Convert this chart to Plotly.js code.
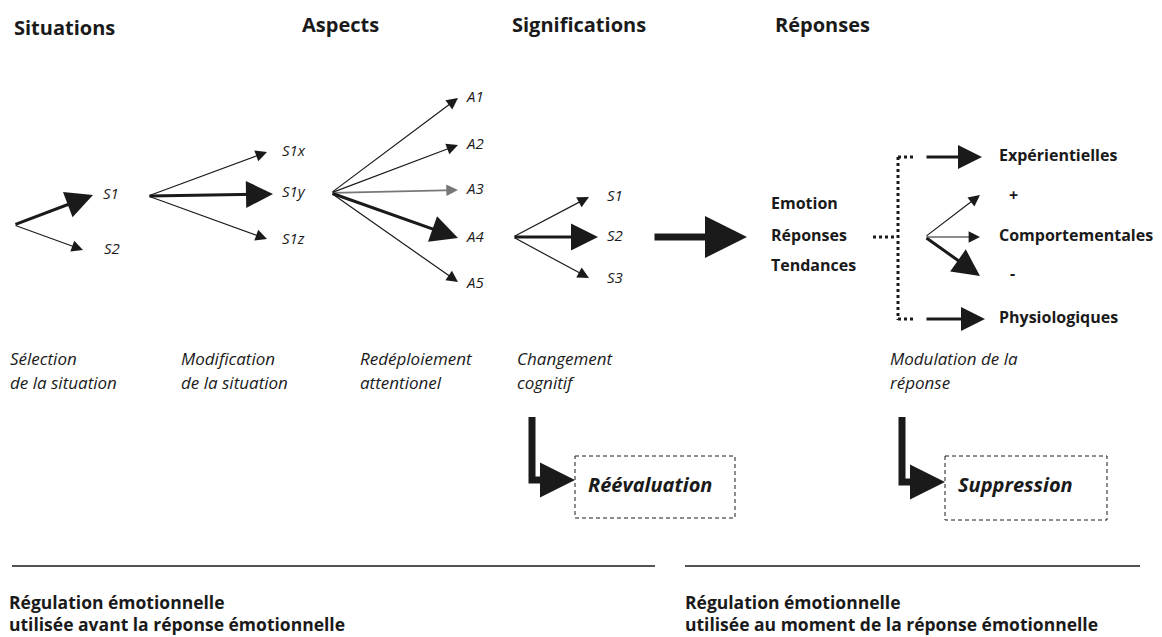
<!DOCTYPE html>
<html>
<head>
<meta charset="utf-8">
<script src="https://cdn.plot.ly/plotly-3.0.1.min.js"></script>
<style>html,body{margin:0;padding:0;background:#fff;}#chart{width:1162px;height:637px;}</style>
</head>
<body>
<div id="chart"></div>
<script>
// ---------- DATA ----------
const stageTitles = ['Situations', 'Aspects', 'Significations', 'Réponses'];
const situationOptions = ['S1', 'S2'];
const situationVariants = ['S1x', 'S1y', 'S1z'];
const aspectLabels = ['A1', 'A2', 'A3', 'A4', 'A5'];
const meaningLabels = ['S1', 'S2', 'S3'];
const emotionLabels = ['Emotion', 'Réponses', 'Tendances'];
const responseLabels = ['Expérientielles', '+', 'Comportementales', '-', 'Physiologiques'];
const strategyFirstLines = ['Sélection', 'Modification', 'Redéploiement', 'Changement', 'Modulation de la'];
const strategySecondLines = ['de la situation', 'de la situation', 'attentionel', 'cognitif', 'réponse'];
const outcomeLabels = ['Réévaluation', 'Suppression'];
const regulationFirstLines = ['Régulation émotionnelle', 'Régulation émotionnelle'];
const regulationSecondLines = ['utilisée avant la réponse émotionnelle', 'utilisée au moment de la réponse émotionnelle'];

// ---------- GEOMETRY (pixel-like data coordinates) ----------
const titlePos = {x: [14, 302, 512, 775], y: [30, 27, 27, 27]};
const sitOrigin = [14, 225];
const sitTips = [[93, 195], [83, 250]];
const sitLabelPos = {x: [103, 104], y: [195, 250]};
const varOrigin = [148, 196];
const varTips = [[267, 152], [273, 194], [267, 239]];
const varLabelPos = {x: [282, 282, 282], y: [152, 193, 240]};
const aspOrigin = [331, 193];
const aspTips = [[458, 98], [458, 145], [458, 190], [458, 238], [458, 282]];
const aspLabelPos = {x: [467, 467, 467, 467, 467], y: [98, 145, 190, 238, 284]};
const meanOrigin = [513, 237];
const meanTips = [[589, 197], [598, 237], [589, 278]];
const meanLabelPos = {x: [607, 607, 607], y: [197, 237, 279]};
const emoLabelPos = {x: [771, 771, 771], y: [205, 237, 267]};
const respLabelPos = {x: [999, 1009, 999, 1010, 999], y: [157, 197, 237, 275, 319]};
const fanOrigin = [925, 237];
const fanTips = [[980, 195], [980, 237], [980, 276]];
const stratX = [10, 181, 360, 517, 890];
const stratY1 = 361, stratY2 = 385;
const outcomePos = {x: [588, 958], y: [487, 487]};
const regPos = {x: [9, 685], y1: 605, y2: 627};
const elbows = [{x: 532, top: 417, y: 480, tip: 575}, {x: 902, top: 417, y: 482, tip: 945}];

const INK = '#1a1a1a';
const traces = [];
function textTrace(x, y, text, size, weight, style, family) {
  traces.push({
    type: 'scatter', mode: 'text', x: x, y: y, text: text,
    textposition: 'middle right', hoverinfo: 'skip', showlegend: false,
    textfont: {family: family || 'Open Sans, sans-serif', size: size, color: INK, weight: weight, style: style}
  });
}
textTrace(titlePos.x, titlePos.y, stageTitles, 20, 700, 'normal');
textTrace(sitLabelPos.x, sitLabelPos.y, situationOptions, 15, 400, 'italic');
textTrace(varLabelPos.x, varLabelPos.y, situationVariants, 15, 400, 'italic');
textTrace(aspLabelPos.x, aspLabelPos.y, aspectLabels, 15, 400, 'italic');
textTrace(meanLabelPos.x, meanLabelPos.y, meaningLabels, 15, 400, 'italic');
textTrace(emoLabelPos.x, emoLabelPos.y, emotionLabels, 16, 700, 'normal');
textTrace(respLabelPos.x, respLabelPos.y, responseLabels, 16, 700, 'normal');
textTrace(stratX, stratX.map(() => stratY1), strategyFirstLines, 17, 400, 'italic');
textTrace(stratX, stratX.map(() => stratY2), strategySecondLines, 17, 400, 'italic');
textTrace(outcomePos.x, outcomePos.y, outcomeLabels, 20, 700, 'italic');
textTrace(regPos.x, regPos.x.map(() => regPos.y1), regulationFirstLines, 17.5, 700, 'normal');
textTrace(regPos.x, regPos.x.map(() => regPos.y2), regulationSecondLines, 17.5, 700, 'normal');

const annotations = [];
function arrow(from, to, width, size, color) {
  annotations.push({
    x: to[0], y: to[1], ax: from[0], ay: from[1],
    xref: 'x', yref: 'y', axref: 'x', ayref: 'y',
    text: '', showarrow: true, arrowhead: 2, arrowsize: size,
    arrowwidth: width, arrowcolor: color || INK, standoff: 0, startstandoff: 0
  });
}
const THIN = 1.2, THICK = 3;
const THIN_HEAD = 1.9, THICK_HEAD = 1.8;
// situations
arrow(sitOrigin, sitTips[0], THICK, THICK_HEAD);
arrow(sitOrigin, sitTips[1], THIN, THIN_HEAD);
// variants
varTips.forEach((t, i) => arrow(varOrigin, t, i === 1 ? THICK : THIN, i === 1 ? THICK_HEAD : THIN_HEAD));
// aspects
aspTips.forEach((t, i) => {
  if (i === 3) arrow(aspOrigin, t, THICK, THICK_HEAD);
  else if (i === 2) arrow(aspOrigin, t, 1.8, 1.3, '#777');
  else arrow(aspOrigin, t, THIN, THIN_HEAD);
});
// meanings
meanTips.forEach((t, i) => arrow(meanOrigin, t, i === 1 ? THICK : THIN, i === 1 ? THICK_HEAD : THIN_HEAD));
// big arrow
arrow([653, 237], [747, 237], 7, 1.2);
// responses
arrow([925, 157], [982, 157], THICK, 1.6);
arrow([925, 319], [985, 319], THICK, 1.6);
fanTips.forEach((t, i) => arrow(fanOrigin, t, i === 2 ? THICK : THIN, i === 2 ? THICK_HEAD : THIN_HEAD));

const shapes = [
  // dashed boxes
  {type: 'rect', x0: 575, y0: 456, x1: 735, y1: 518, line: {color: INK, width: 1, dash: '4px,3px'}},
  {type: 'rect', x0: 945, y0: 456, x1: 1107, y1: 520, line: {color: INK, width: 1, dash: '4px,3px'}},
  // dotted bracket
  {type: 'line', x0: 873, y0: 237, x1: 897, y1: 237, line: {color: INK, width: 3, dash: 'dot'}},
  {type: 'line', x0: 898, y0: 157, x1: 898, y1: 320, line: {color: INK, width: 3, dash: 'dot'}},
  {type: 'line', x0: 898, y0: 157, x1: 916, y1: 157, line: {color: INK, width: 3, dash: 'dot'}},
  {type: 'line', x0: 898, y0: 319, x1: 916, y1: 319, line: {color: INK, width: 3, dash: 'dot'}},
  // bottom rules
  {type: 'line', x0: 12, y0: 566, x1: 655, y1: 566, line: {color: INK, width: 1.5}},
  {type: 'line', x0: 685, y0: 566, x1: 1140, y1: 566, line: {color: INK, width: 1.5}}
];
// L-shaped elbow arrows: filled polygon for the shaft, annotation for the head
const HW = 3.5;
elbows.forEach(e => {
  const xl = e.x - HW, xr = e.x + HW, yt = e.y - HW, yb = e.y + HW, xe = e.tip - 16;
  shapes.push({type: 'path',
    path: `M${xl},${e.top} L${xr},${e.top} L${xr},${yt} L${xe},${yt} L${xe},${yb} L${xl},${yb} Z`,
    fillcolor: INK, line: {width: 0}});
  arrow([e.tip - 20, e.y], [e.tip, e.y], 7, 1.0);
});

const layout = {
  width: 1162, height: 637,
  margin: {l: 0, r: 0, t: 0, b: 0, pad: 0},
  paper_bgcolor: '#ffffff', plot_bgcolor: '#ffffff',
  xaxis: {range: [0, 1162], visible: false, fixedrange: true},
  yaxis: {range: [637, 0], visible: false, fixedrange: true},
  showlegend: false,
  annotations: annotations,
  shapes: shapes
};
Plotly.newPlot('chart', traces, layout, {displayModeBar: false, staticPlot: true});
</script>
</body>
</html>
